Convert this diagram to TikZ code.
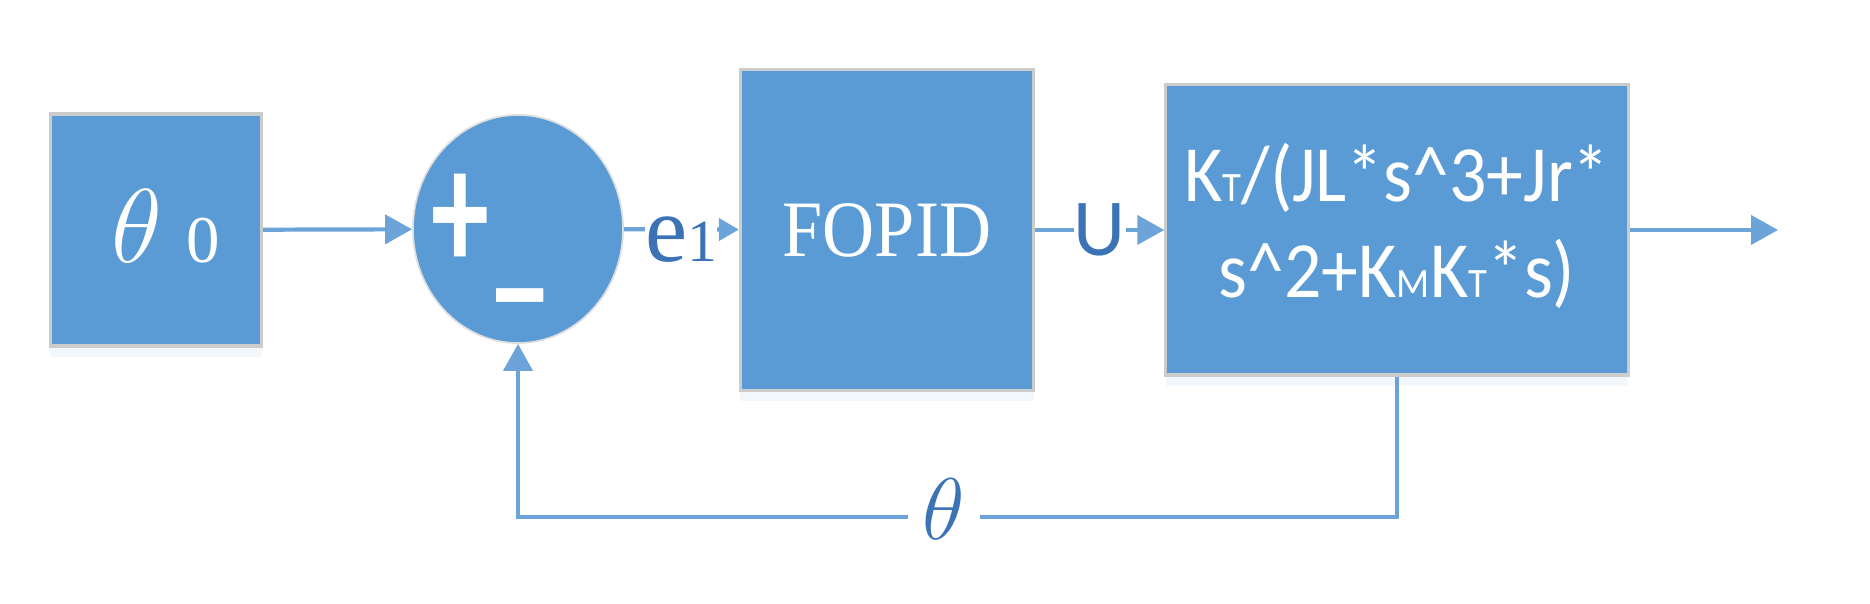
\documentclass[tikz,border=0pt]{standalone}
\usepackage{graphicx}
\usepackage{fontspec}
\setmainfont{Liberation Serif}
\setsansfont{Carlito}
\usetikzlibrary{arrows.meta,positioning,shapes.geometric,shadows}
\definecolor{boxblue}{RGB}{91,155,213}
\definecolor{lineblue}{RGB}{108,164,218}
\definecolor{labelblue}{RGB}{60,114,182}
\newcommand{\tall}[2][1.1]{\scalebox{1}[#1]{#2}}
\begin{document}
\begin{tikzpicture}[x=0.01cm, y=-0.01cm,
  every node/.style={inner sep=0pt},
  block/.style={draw=gray!40, line width=0.9pt, fill=boxblue, text=white,
    drop shadow={shadow xshift=0pt, shadow yshift=-3pt, opacity=0.08, fill=boxblue}},
  sumnode/.style={ellipse, draw=gray!25, line width=0.5pt, fill=boxblue},
  link/.style={lineblue, line width=1.2pt, -{Triangle[length=0.27cm,width=0.29cm]}},
  shortlink/.style={lineblue, line width=1.2pt, -{Triangle[length=0.2cm,width=0.22cm]}},
  siglabel/.style={fill=white, text=labelblue}]

\useasboundingbox (0,0) rectangle (1870,604);

\node[block, minimum width=2.11cm, minimum height=2.32cm] (ref) at (156,230)
  {\raisebox{2pt}{\hspace{5.6pt}\scalebox{1.2}{\fontsize{24.88}{30}\selectfont$\theta$}\hspace{7pt}{\fontsize{19}{22}\selectfont 0}}};
\node[sumnode, minimum width=2.10cm, minimum height=2.28cm] (sum) at (518,229) {};
\node[anchor=base west, text=white, font=\sffamily\bfseries] (sign) at (431,271)
  {\tall[1.5]{\fontsize{33}{33}\selectfont +}\hspace{2pt}\raisebox{-2pt}{\tall[1.8]{\fontsize{27}{27}\selectfont\_}}};
\node[block, minimum width=2.93cm, minimum height=3.21cm] (fopid) at (887,230)
  {\tall[1.11]{\fontsize{20.5}{25}\selectfont FOPID}};
\node[block, minimum width=4.62cm, minimum height=2.90cm,
  font=\sffamily\fontsize{21}{25.3}\selectfont] (plant) at (1397,230)
  {\raisebox{-1.4pt}{\tall[1.08]{\begin{tabular}{@{}c@{}}
   K{\fontsize{11}{12}\selectfont T}/(JL*s\textasciicircum 3+Jr*\\
   s\textasciicircum 2+K{\fontsize{11}{12}\selectfont M}K{\fontsize{11}{12}\selectfont T}*s)
   \end{tabular}}}};

\coordinate (out) at (1778,230);
\coordinate (fb) at (518,517);

\draw[link] (ref) -- (sum);
\draw[shortlink] (sum) -- node[siglabel, yshift=-3pt] {{\fontsize{27}{30}\selectfont e}{\fontsize{17}{20}\selectfont 1}} (fopid);
\draw[link] (fopid) -- node[siglabel, font=\sffamily\fontsize{23}{26}\selectfont] {U} (plant);
\draw[link] (plant) -- (out);
\draw[link] (plant.south) |- (fb) -- (sum.south);
\node[siglabel, inner xsep=4.3pt, yshift=2.3pt] (fbtheta) at (944,517) {\fontsize{24.88}{30}\selectfont$\theta$};

\end{tikzpicture}
\end{document}
